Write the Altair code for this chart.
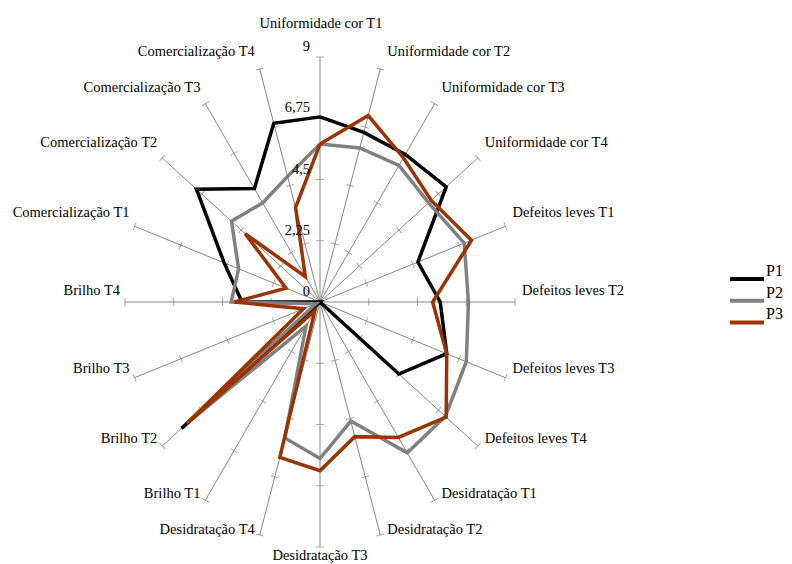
import math
import altair as alt
import pandas as pd

categories = [
    "Uniformidade cor T1", "Uniformidade cor T2", "Uniformidade cor T3", "Uniformidade cor T4",
    "Defeitos leves T1", "Defeitos leves T2", "Defeitos leves T3", "Defeitos leves T4",
    "Desidratação T1", "Desidratação T2", "Desidratação T3", "Desidratação T4",
    "Brilho T1", "Brilho T2", "Brilho T3", "Brilho T4",
    "Comercialização T1", "Comercialização T2", "Comercialização T3", "Comercialização T4",
]
p1 = [6.8, 6.55, 6.7, 7.2, 4.75, 5.55, 6.15, 4.5, 0, 0, 0, 0, 0, 7.9, 0, 3.6, 4.65, 7.05, 5.15, 6.9]
p2 = [5.8, 5.95, 6.2, 6.2, 7.0, 6.85, 7.1, 7.15, 6.85, 4.6, 5.75, 5.25, 1.1, 7.5, 0.2, 4.1, 3.95, 5.05, 4.5, 4.85]
p3 = [5.8, 7.2, 6.55, 6.35, 7.35, 5.2, 6.15, 7.2, 6.15, 5.2, 6.2, 6.0, 0.4, 7.6, 0.8, 3.95, 1.65, 4.27, 1.15, 3.65]
series_names = ["P1", "P2", "P3"]
series_colors = ["#000000", "#808080", "#993300"]
tick_values = [2.25, 4.5, 6.75, 9]
label_values = [0, 2.25, 4.5, 6.75, 9]
label_texts = ["0", "2,25", "4,5", "6,75", "9"]
RMAX = 9

W, H = 390, 490
sx, sy = W / (2 * RMAX), H / (2 * RMAX)
n = len(categories)
angles = [i * 360.0 / n for i in range(n)]

# series polygons
rows = []
for name, vals in zip(series_names, [p1, p2, p3]):
    for k in range(n + 1):
        i = k % n
        th = math.radians(angles[i])
        rows.append(dict(series=name, order=k, x=vals[i] * math.sin(th), y=vals[i] * math.cos(th)))
lines_df = pd.DataFrame(rows)

# spokes
spokes_df = pd.DataFrame([
    dict(x0=0.0, y0=0.0, xe=RMAX * math.sin(math.radians(a)), ye=RMAX * math.cos(math.radians(a)))
    for a in angles
])

# tick marks on spokes
trows = []
for a in angles:
    th = math.radians(a)
    alpha = math.degrees(math.atan2(-math.cos(th) * sy, math.sin(th) * sx))
    ang = (alpha + 90) % 360
    for v in tick_values:
        trows.append(dict(x=v * math.sin(th), y=v * math.cos(th), ang=ang))
ticks_df = pd.DataFrame(trows)

# category labels
lrows = []
for cat, a in zip(categories, angles):
    th = math.radians(a)
    ex, ey = RMAX * math.sin(th), RMAX * math.cos(th)
    if a == 0:
        side, dxp, up = "top", 1, 33
    elif a == 180:
        side, dxp, up = "bottom", 0, -9
    elif a < 180:
        side, dxp, up = "right", 7, 11 + 6 * math.cos(th)
    else:
        side, dxp, up = "left", -5, 11 + 6 * math.cos(th)
    lrows.append(dict(cat=cat, side=side, x=ex + dxp / sx, y=ey + up / sy))
labels_df = pd.DataFrame(lrows)

vals_df = pd.DataFrame(dict(v=label_values, t=label_texts, x=[0.0] * len(label_values)))

FONT = "Liberation Serif"
FS = 14.5
xs = alt.Scale(domain=[-RMAX, RMAX], nice=False, zero=False)
ys = alt.Scale(domain=[-RMAX, RMAX], nice=False, zero=False)

spokes = alt.Chart(spokes_df).mark_rule(color="#858585", strokeWidth=1).encode(
    x=alt.X("x0:Q", scale=xs, axis=None), y=alt.Y("y0:Q", scale=ys, axis=None),
    x2="xe:Q", y2="ye:Q",
)
ticks = alt.Chart(ticks_df).mark_point(shape="stroke", size=64, color="#858585", strokeWidth=1, filled=False).encode(
    x=alt.X("x:Q", scale=xs, axis=None), y=alt.Y("y:Q", scale=ys, axis=None),
    angle=alt.Angle("ang:Q", scale=None),
)
series = alt.Chart(lines_df).mark_line(strokeWidth=3.5, strokeJoin="miter").encode(
    x=alt.X("x:Q", scale=xs, axis=None), y=alt.Y("y:Q", scale=ys, axis=None),
    order="order:Q",
    color=alt.Color("series:N", scale=alt.Scale(domain=series_names, range=series_colors),
                    legend=alt.Legend(title=None, orient="none", legendX=613, legendY=213,
                                      symbolType="M-2.5,0H2.5", symbolSize=185, symbolStrokeWidth=4,
                                      labelFont=FONT, labelFontSize=16, labelBaseline="bottom",
                                      labelColor="#000000", rowPadding=-2.3, labelOffset=10, padding=0)),
)

def label_layer(side, align):
    return alt.Chart(labels_df).transform_filter(alt.datum.side == side).mark_text(
        font=FONT, fontSize=FS, align=align, baseline="middle", color="#000000"
    ).encode(x=alt.X("x:Q", scale=xs, axis=None), y=alt.Y("y:Q", scale=ys, axis=None), text="cat:N")

val_labels = alt.Chart(vals_df).mark_text(
    font=FONT, fontSize=FS, align="right", baseline="middle", dx=-10, dy=-10, color="#000000"
).encode(x=alt.X("x:Q", scale=xs, axis=None), y=alt.Y("v:Q", scale=ys, axis=None), text="t:N")

chart = alt.layer(
    spokes, ticks, series,
    label_layer("right", "left"), label_layer("left", "right"),
    label_layer("top", "center"), label_layer("bottom", "center"),
    val_labels,
).properties(
    width=W, height=H,
    autosize=alt.AutoSizeParams(type="none"),
    padding={"left": 117, "top": 49, "right": 269, "bottom": 17},
).configure_view(strokeWidth=0)

chart.save("out.html", embed_options={"renderer": "svg", "actions": False})
